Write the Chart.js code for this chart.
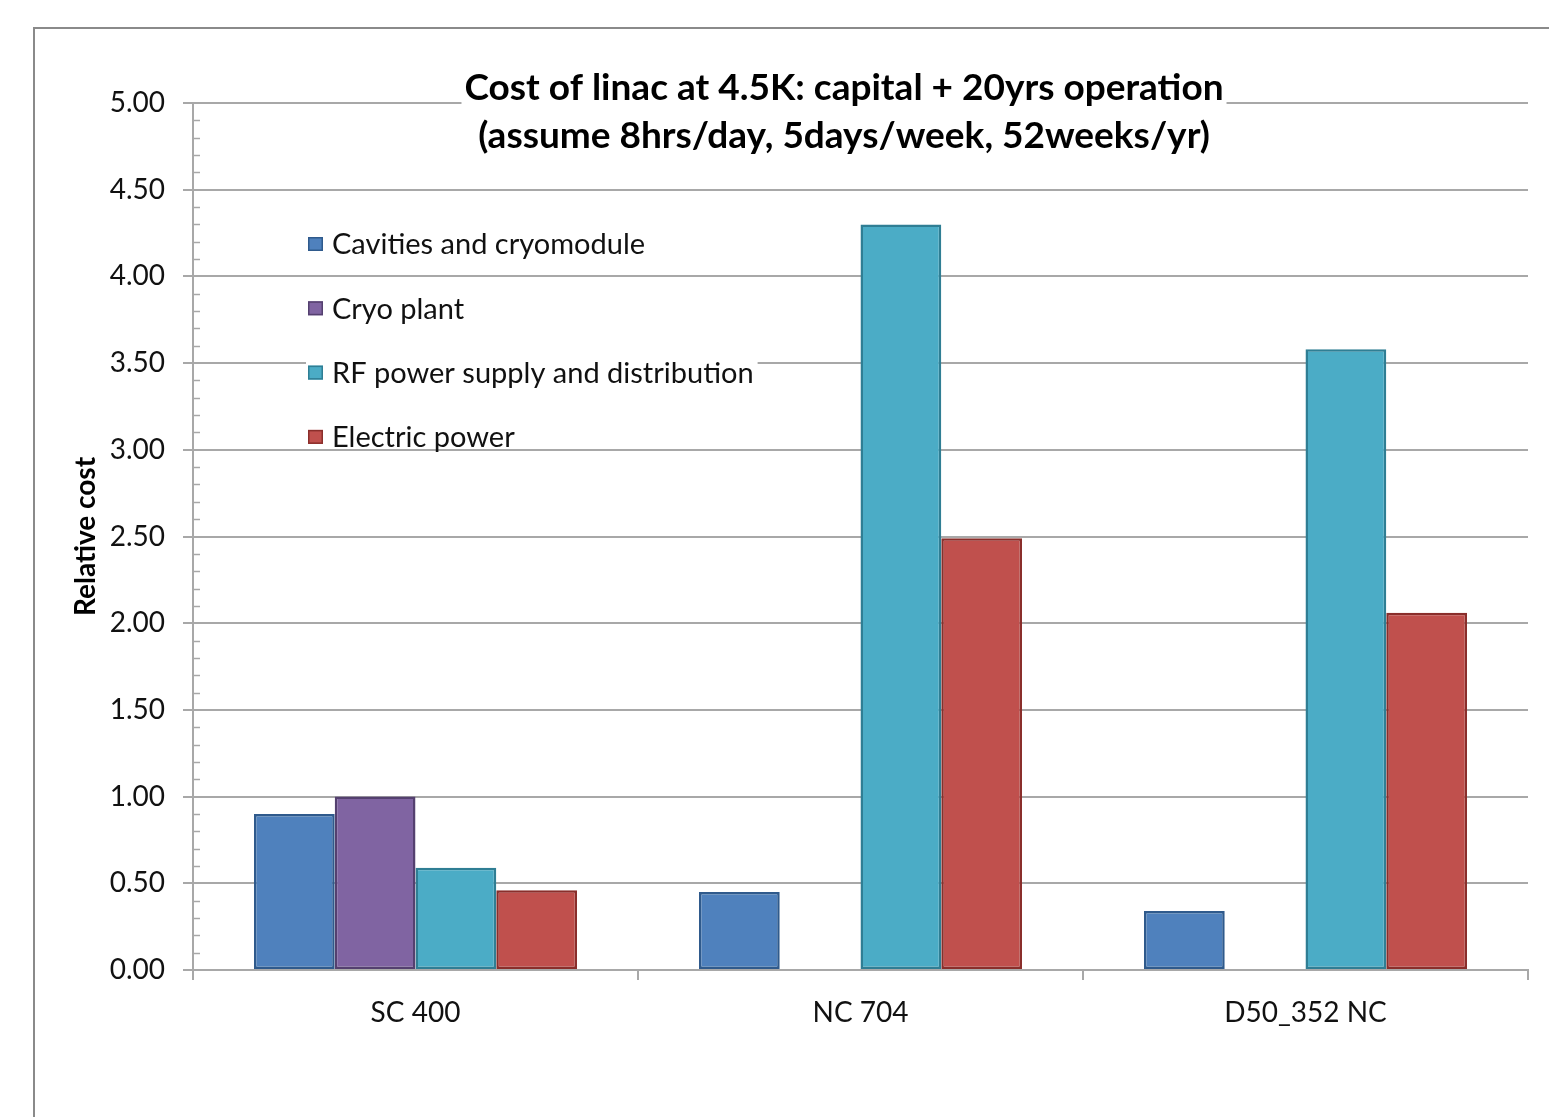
<!DOCTYPE html>
<html>
<head>
<meta charset="utf-8">
<title>Cost of linac at 4.5K</title>
<script src="https://cdn.jsdelivr.net/npm/chart.js@4/dist/chart.umd.min.js"></script>
<style>
  html, body { margin: 0; padding: 0; background: #fff; overflow: hidden; }
  #chart-cost { display: block; }
</style>
</head>
<body>
<canvas id="chart-cost" width="1549" height="1117"></canvas>
<script>
/* Relative cost of each linac option (capital + 20 years of operation) */

var categories = ['SC 400', 'NC 704', 'D50_352 NC'];

var seriesNames = [
  'Cavities and cryomodule',
  'Cryo plant',
  'RF power supply and distribution',
  'Electric power'
];

var cavities      = [0.90, 0.45, 0.34];
var cryoPlant     = [1.00, null, null];
var rfPower       = [0.59, 4.30, 3.58];
var electricPower = [0.46, 2.49, 2.06];

var titleLines = [
  'Cost of linac at 4.5K: capital + 20yrs operation',
  '(assume 8hrs/day, 5days/week, 52weeks/yr)'
];

var fillColors   = ['#4F81BD', '#8064A2', '#4BACC6', '#C0504D'];
var borderColors = ['#2F5A8C', '#54406F', '#2F7E94', '#8A2E2B'];

var GRID = '#a8a8a8';
var FONT = 'Lato, "Open Sans", sans-serif';

// outer frame of the chart object
var framePlugin = {
  id: 'frame',
  beforeDraw: function(chart) {
    var ctx = chart.ctx;
    ctx.save();
    ctx.fillStyle = '#fff';
    ctx.fillRect(0, 0, chart.width, chart.height);
    ctx.strokeStyle = '#8a8a8a';
    ctx.lineWidth = 2;
    ctx.strokeRect(34, 28, chart.width + 50, chart.height + 50);
    ctx.restore();
  }
};

// small minor ticks on the inside of the value axis
var minorTicksPlugin = {
  id: 'minorTicks',
  afterDraw: function(chart) {
    var y = chart.scales.y;
    var ctx = chart.ctx;
    var x0 = chart.chartArea.left;
    ctx.save();
    ctx.strokeStyle = GRID;
    ctx.lineWidth = 1.5;
    for (var i = 0; i <= 50; i++) {
      if (i % 5 === 0) continue;
      var py = Math.round(y.getPixelForValue(i / 10)) + 0.5;
      ctx.beginPath();
      ctx.moveTo(x0, py);
      ctx.lineTo(x0 + 7, py);
      ctx.stroke();
    }
    ctx.restore();
  }
};

// two-line title sitting over the top of the plot, white behind the text
var titlePlugin = {
  id: 'overTitle',
  afterDraw: function(chart) {
    var ctx = chart.ctx;
    var cx = 844;
    var baselines = [100, 148];
    ctx.save();
    ctx.font = 'bold 37px ' + FONT;
    ctx.textAlign = 'center';
    ctx.textBaseline = 'alphabetic';
    titleLines.forEach(function(t, i) {
      var w = ctx.measureText(t).width;
      ctx.fillStyle = '#fff';
      ctx.fillRect(cx - w / 2 - 3, baselines[i] - 32, w + 6, 44);
      ctx.fillStyle = '#000';
      ctx.fillText(t, cx, baselines[i]);
    });
    ctx.restore();
  }
};

// legend stacked inside the plot area, upper left
var legendPlugin = {
  id: 'innerLegend',
  afterDraw: function(chart) {
    var ctx = chart.ctx;
    var x = 308;
    var y0 = 244;
    var step = 64.3;
    ctx.save();
    ctx.font = '29px ' + FONT;
    ctx.textBaseline = 'middle';
    ctx.textAlign = 'left';
    chart.data.datasets.forEach(function(ds, i) {
      var cy = y0 + i * step;
      var w = ctx.measureText(ds.label).width;
      ctx.fillStyle = '#fff';
      ctx.fillRect(x - 2, cy - 15, w + 30, 26);
      ctx.fillStyle = ds.backgroundColor;
      ctx.fillRect(x, cy - 7, 15, 14);
      ctx.strokeStyle = ds.borderColor;
      ctx.lineWidth = 1.5;
      ctx.strokeRect(x + 0.75, cy - 6.25, 13.5, 12.5);
      ctx.fillStyle = '#111';
      ctx.fillText(ds.label, x + 24, cy + 1);
    });
    ctx.restore();
  }
};

function buildDatasets() {
  var values = [cavities, cryoPlant, rfPower, electricPower];
  return values.map(function(v, i) {
    return {
      label: seriesNames[i],
      data: v,
      backgroundColor: fillColors[i],
      borderColor: borderColors[i],
      borderWidth: 2.5,
      borderSkipped: false,
      categoryPercentage: 0.726,
      barPercentage: 1.0
    };
  });
}

function cargarGrafico() {
  var ctx = document.getElementById('chart-cost').getContext('2d');
  Chart.defaults.font.family = FONT;
  Chart.defaults.color = '#111';

  new Chart(ctx, {
    type: 'bar',
    data: {
      labels: categories,
      datasets: buildDatasets()
    },
    plugins: [framePlugin, minorTicksPlugin, titlePlugin, legendPlugin],
    options: {
      responsive: false,
      animation: false,
      devicePixelRatio: 1,
      layout: { padding: { left: 0, right: 21, top: 103, bottom: 67 } },
      plugins: {
        legend: { display: false },
        title: { display: false },
        tooltip: { enabled: false }
      },
      scales: {
        x: {
          afterFit: function(scale) { scale.height = 80; },
          grid: {
            offset: true,
            drawOnChartArea: false,
            color: GRID,
            lineWidth: 2,
            tickLength: 10
          },
          border: { color: GRID, width: 2 },
          ticks: {
            font: { size: 28 },
            color: '#111',
            padding: 16
          }
        },
        y: {
          min: 0,
          max: 5,
          afterFit: function(scale) { scale.width = 193; },
          grid: {
            color: GRID,
            lineWidth: 2,
            tickLength: 10
          },
          border: { color: GRID, width: 2 },
          ticks: {
            stepSize: 0.5,
            font: { size: 28 },
            color: '#111',
            padding: 18,
            callback: function(v) { return Number(v).toFixed(2); }
          },
          title: {
            display: true,
            text: 'Relative cost',
            font: { size: 28, weight: 'bold' },
            color: '#000',
            padding: { top: 69, bottom: 0 }
          }
        }
      }
    }
  });
}

document.addEventListener('DOMContentLoaded', cargarGrafico);
</script>
</body>
</html>
